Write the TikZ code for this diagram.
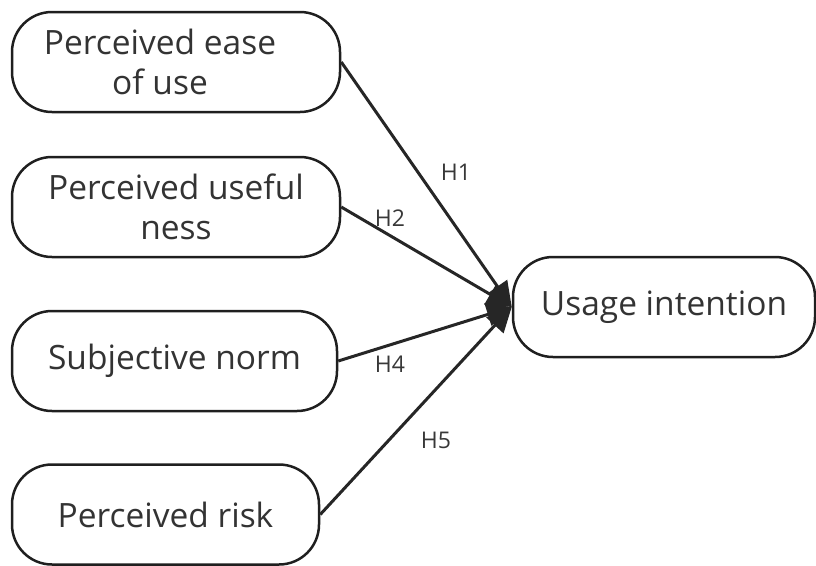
\documentclass[tikz,border=0pt]{standalone}
\usepackage{fontspec}
\setmainfont{Open Sans}
\usetikzlibrary{arrows.meta}
\begin{document}
\begin{tikzpicture}[x=1pt,y=-1pt,
	box/.style={draw=black!88, line width=2.5pt, rounded corners=40pt, align=center,
		minimum height=100pt, inner sep=0pt, text=black!80, font=\fontsize{33.5}{40}\selectfont},
	hyp/.style={text=black!78, font=\fontsize{23}{27}\selectfont},
	link/.style={draw=black!85, line width=3pt, -{Triangle[length=25pt,width=23pt]}}]
	\useasboundingbox (0,0) rectangle (816,565);
	\node[box, minimum width=328pt] (ease) at (176,62) {Perceived ease\hspace*{32pt}\\of use\hspace*{32pt}};
	\node[box, minimum width=328pt] (useful) at (176,207) {Perceived useful\\ness};
	\node[box, minimum width=325pt] (norm) at (174.5,361) {Subjective norm};
	\node[box, minimum width=307pt] (risk) at (165.5,514.5) {Perceived risk};
	\node[box, minimum width=302pt] (intent) at (664,307) {Usage intention};
	\draw[link] (ease.east) -- (intent.west);
	\draw[link] (useful.east) -- (intent.west);
	\draw[link] (norm.east) -- (intent.west);
	\draw[link] (risk.east) -- (intent.west);
	\node[hyp] (h1) at (456,172) {H1};
	\node[hyp] (h2) at (390,218) {H2};
	\node[hyp] (h4) at (390,364) {H4};
	\node[hyp] (h5) at (436,440) {H5};
\end{tikzpicture}
\end{document}
